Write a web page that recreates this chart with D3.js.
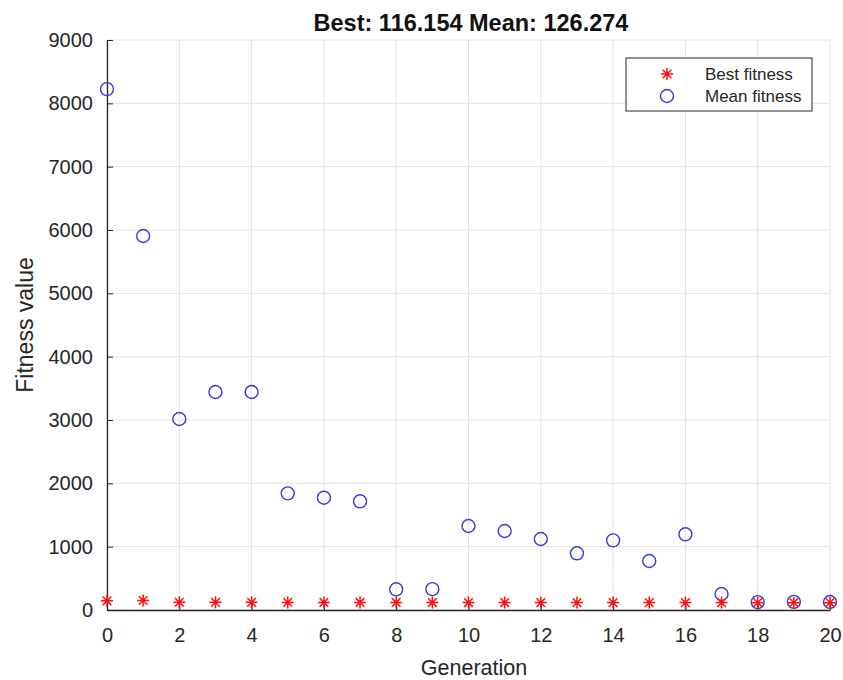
<!DOCTYPE html>
<html>
  <head>
    <script src="https://d3js.org/d3.v7.min.js"></script>
    <style>
      html, body { margin: 0; padding: 0; background: #fff; }
      svg { font-family: "Liberation Sans", Arial, sans-serif; }
      .grid line { stroke: #e3e3e3; stroke-width: 1; }
    </style>
  </head>
  <body>
    <div id="chart"></div>
    <script>
      // GA fitness per generation
      const generations = d3.range(0, 21);
      const bestFitness = [145, 150, 122, 121, 121, 120, 120, 119, 119, 118, 118, 118, 117, 117, 117, 117, 117, 116.5, 116.3, 116.2, 116.154];
      const meanFitness = [8225, 5905, 3016, 3442, 3442, 1842, 1773, 1716, 327, 330, 1326, 1247, 1121, 895, 1100, 774, 1195, 253, 125, 128, 126.274];
      const xTicks = [0, 2, 4, 6, 8, 10, 12, 14, 16, 18, 20];
      const yTicks = [0, 1000, 2000, 3000, 4000, 5000, 6000, 7000, 8000, 9000];
      const seriesNames = ["Best fitness", "Mean fitness"];

      const width = 843, height = 680;
      const margin = { top: 40, right: 13, bottom: 70, left: 107 };
      const innerW = width - margin.left - margin.right;
      const innerH = height - margin.top - margin.bottom;

      const svg = d3.select("#chart").append("svg")
        .attr("width", width)
        .attr("height", height);

      const g = svg.append("g")
        .attr("transform", `translate(${margin.left},${margin.top})`);

      const x = d3.scaleLinear().domain([0, 20]).range([0, innerW]);
      const y = d3.scaleLinear().domain([0, 9000]).range([innerH, 0]);

      // grid
      g.append("g").attr("class", "grid")
        .selectAll("line").data(xTicks).join("line")
        .attr("x1", d => x(d)).attr("x2", d => x(d))
        .attr("y1", 0).attr("y2", innerH);
      g.append("g").attr("class", "grid")
        .selectAll("line").data(yTicks).join("line")
        .attr("x1", 0).attr("x2", innerW)
        .attr("y1", d => y(d)).attr("y2", d => y(d));

      // axes, ticks pointing inward like matlab
      const xAxis = g.append("g")
        .attr("transform", `translate(0,${innerH})`)
        .call(d3.axisBottom(x).tickValues(xTicks).tickFormat(d3.format("d"))
          .tickSize(-6).tickPadding(18).tickSizeOuter(0));
      const yAxis = g.append("g")
        .call(d3.axisLeft(y).tickValues(yTicks).tickFormat(d3.format("d"))
          .tickSize(-6).tickPadding(14).tickSizeOuter(0));
      [xAxis, yAxis].forEach(a => {
        a.select(".domain").attr("stroke", "#262626").attr("stroke-width", 1.3);
        a.selectAll(".tick line").attr("stroke", "#262626");
        a.selectAll(".tick text")
          .attr("font-size", 20)
          .attr("font-family", "Liberation Sans, Arial, sans-serif")
          .attr("fill", "#262626");
      });

      // matlab style '*' marker: plus + cross
      const drawStar = (sel) => sel.append("path")
        .attr("d", () => {
          const r = 6, q = r * 0.72;
          return `M${-r},0H${r}M0,${-r}V${r}M${-q},${-q}L${q},${q}M${-q},${q}L${q},${-q}`;
        })
        .attr("fill", "none")
        .attr("stroke", "#ff1010")
        .attr("stroke-width", 1.5);

      // mean fitness circles
      g.append("g").selectAll("circle")
        .data(generations).join("circle")
        .attr("cx", d => x(d))
        .attr("cy", d => y(meanFitness[d]))
        .attr("r", 6.5)
        .attr("fill", "none")
        .attr("stroke", "#3a3ad8")
        .attr("stroke-width", 1.4);

      // best fitness stars
      g.append("g").selectAll("g")
        .data(generations).join("g")
        .attr("transform", d => `translate(${x(d)},${y(bestFitness[d])})`)
        .call(drawStar);

      // title and labels
      svg.append("text")
        .attr("x", 471).attr("y", 31)
        .attr("text-anchor", "middle")
        .attr("font-size", 23.5).attr("font-weight", "bold").attr("fill", "#111")
        .text(`Best: 116.154 Mean: 126.274`);
      svg.append("text")
        .attr("x", 474).attr("y", 675)
        .attr("text-anchor", "middle")
        .attr("font-size", 21.5).attr("fill", "#262626")
        .text("Generation");
      svg.append("text")
        .attr("transform", `translate(33,${margin.top + innerH / 2}) rotate(-90)`)
        .attr("text-anchor", "middle")
        .attr("font-size", 23).attr("fill", "#262626")
        .text("Fitness value");

      // legend
      const lg = svg.append("g").attr("transform", "translate(626,58)");
      lg.append("rect")
        .attr("width", 186).attr("height", 53)
        .attr("fill", "#fff").attr("stroke", "#262626").attr("stroke-width", 1);
      const rows = lg.selectAll("g.row").data(seriesNames).join("g")
        .attr("class", "row")
        .attr("transform", (d, i) => `translate(41,${16 + i * 22})`);
      rows.filter((d, i) => i === 0).call(drawStar);
      rows.filter((d, i) => i === 1).append("circle")
        .attr("r", 6.5).attr("fill", "none")
        .attr("stroke", "#3a3ad8").attr("stroke-width", 1.4);
      rows.append("text")
        .attr("x", 38).attr("dy", "0.35em")
        .attr("font-size", 17).attr("fill", "#262626")
        .text(d => d);
    </script>
  </body>
</html>
